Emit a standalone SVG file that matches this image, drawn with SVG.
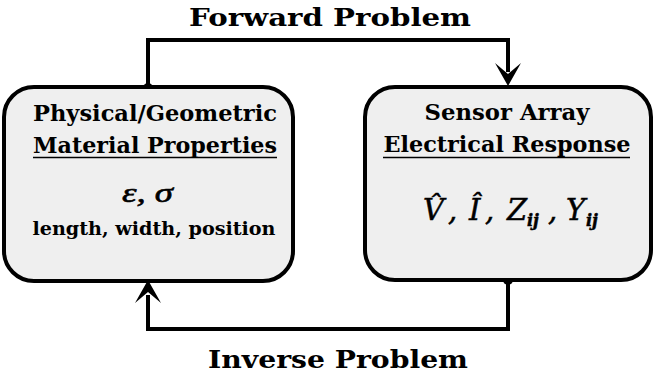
<svg xmlns="http://www.w3.org/2000/svg" width="654" height="374" viewBox="0 0 654 374">
<style>
.box{fill:#efefef;stroke:#000;stroke-width:4}
.conn{fill:none;stroke:#000;stroke-width:4;stroke-linejoin:miter}
.t{font-family:"DejaVu Serif","Liberation Serif",serif;font-weight:bold;fill:#000;text-anchor:middle}
.m{font-family:"Liberation Serif",serif;font-style:italic;fill:#000;stroke:#000;stroke-width:0.6}
.v{font-family:"DejaVu Serif",serif;font-style:italic;font-size:29px;fill:#000;stroke:#000;stroke-width:0.5}
.s{font-family:"DejaVu Serif",serif;font-style:italic;font-weight:bold;font-size:16px;fill:#000}
.ul{stroke:#000;stroke-width:1.6}
</style>
<rect width="654" height="374" fill="#fff"/>
<g id="connectors">
<path class="conn" d="M148,87 V40 H508 V72"/>
<path d="M495,63 L508,86 L521,63 L508,74 Z" fill="#000"/>
<circle cx="148" cy="88" r="5"/>
<path class="conn" d="M508,280 V329 H148 V295"/>
<path d="M135,303 L148,280 L161,303 L148,292 Z" fill="#000"/>
<circle cx="508" cy="280" r="5"/>
<text class="t" x="330" y="26" font-size="25" textLength="282" lengthAdjust="spacingAndGlyphs">Forward Problem</text>
<text class="t" x="338" y="368" font-size="25" textLength="260" lengthAdjust="spacingAndGlyphs">Inverse Problem</text>
</g>
<g id="node-material">
<rect class="box" x="4" y="87" width="289" height="194" rx="30"/>
<text class="t" x="155" y="121" font-size="23" textLength="244" lengthAdjust="spacingAndGlyphs">Physical/Geometric</text>
<text class="t" x="155" y="153" font-size="23" textLength="244" lengthAdjust="spacingAndGlyphs">Material Properties</text>
<line class="ul" x1="33" y1="157.5" x2="277" y2="157.5"/>
<text class="m" x="122" y="202" font-size="28" textLength="51" lengthAdjust="spacingAndGlyphs">ε, σ</text>
<text class="t" x="154" y="235" font-size="19" textLength="243" lengthAdjust="spacingAndGlyphs">length, width, position</text>
</g>
<g id="node-sensor">
<rect class="box" x="365" y="87" width="286" height="193" rx="30"/>
<text class="t" x="507" y="120" font-size="23" textLength="165" lengthAdjust="spacingAndGlyphs">Sensor Array</text>
<text class="t" x="507" y="152" font-size="23" textLength="247" lengthAdjust="spacingAndGlyphs">Electrical Response</text>
<line class="ul" x1="383" y1="157.5" x2="630" y2="157.5"/>
<text class="v"><tspan x="423" y="220">V̂</tspan><tspan x="448" y="220">,</tspan><tspan x="469" y="220">Î</tspan><tspan x="485" y="220">,</tspan><tspan x="507" y="220">Z</tspan><tspan class="s" x="527" y="226">ij</tspan><tspan x="548" y="220">,</tspan><tspan x="566" y="220">Y</tspan><tspan class="s" x="586" y="226">ij</tspan></text>
</g>
</svg>
